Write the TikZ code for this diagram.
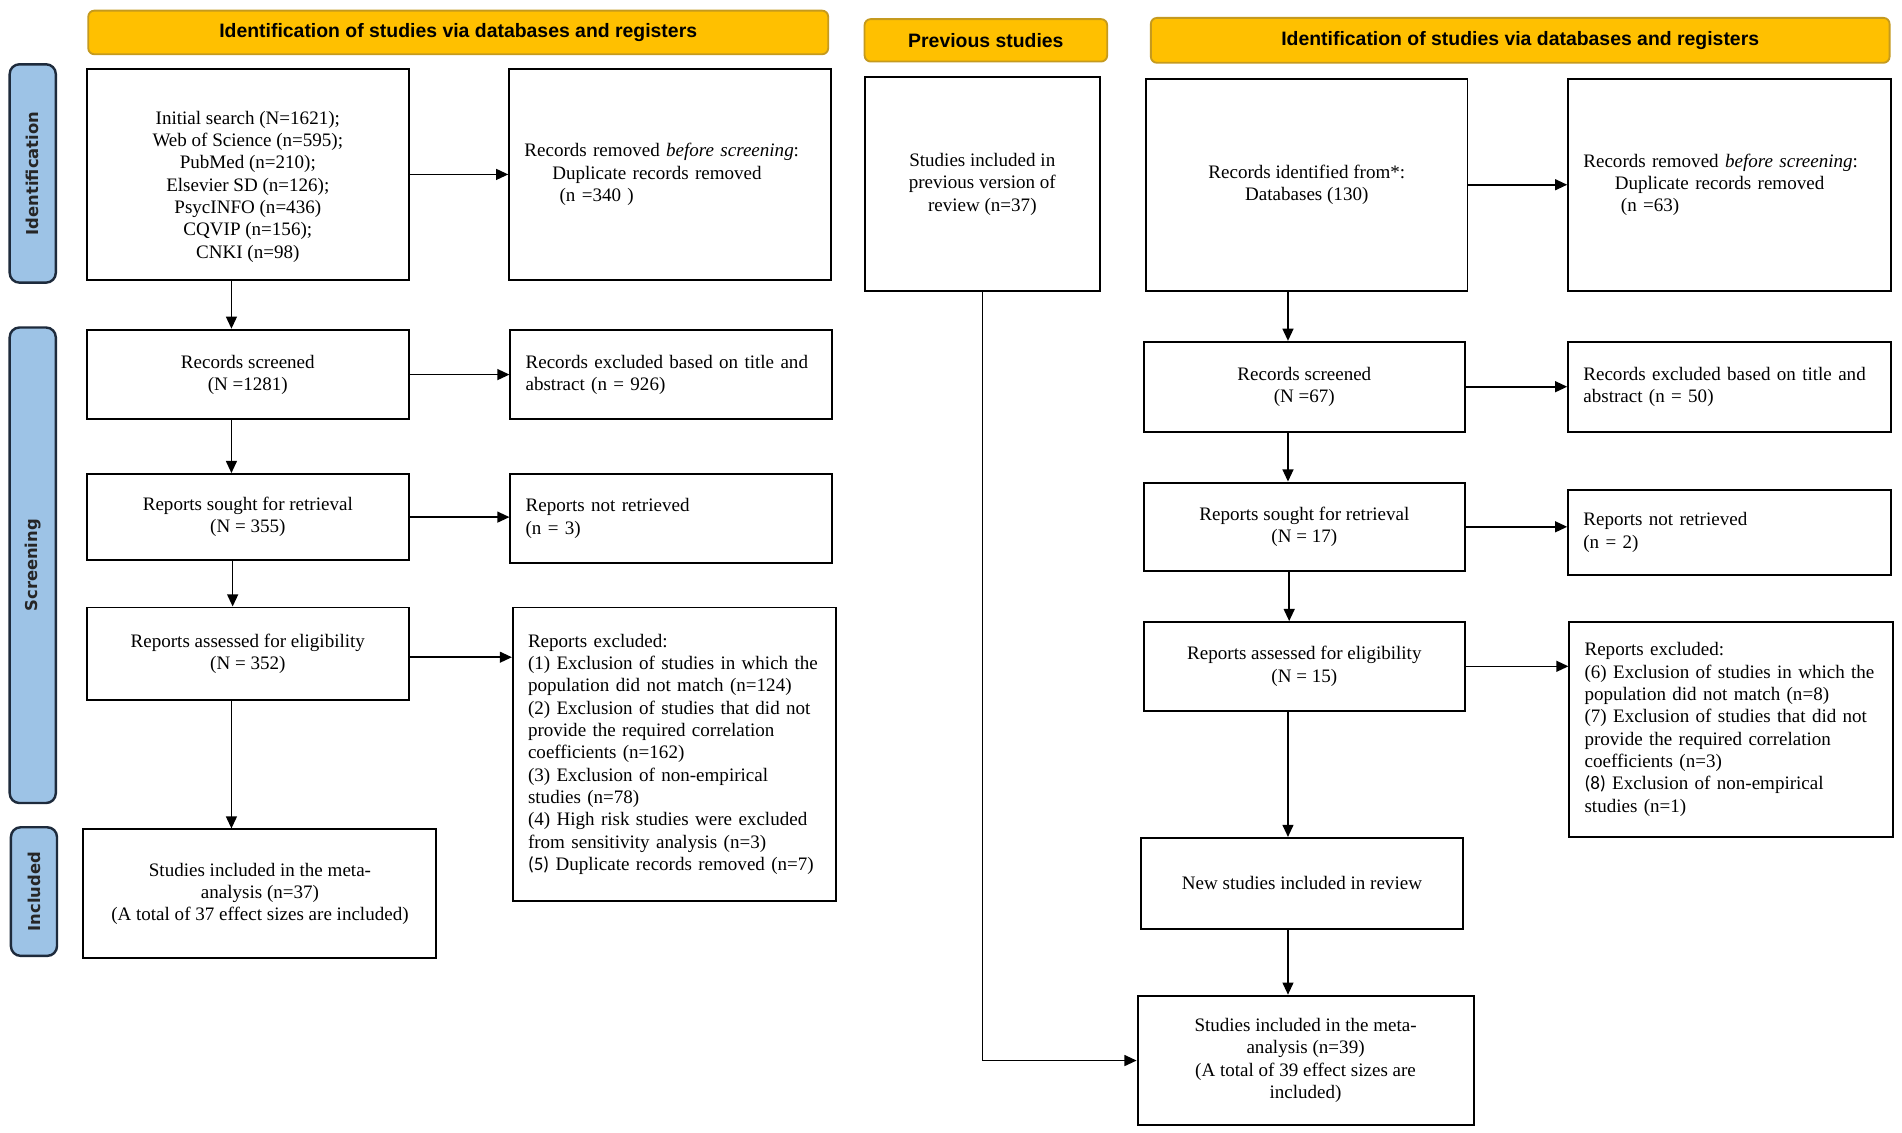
\documentclass[tikz,border=0pt]{standalone}
\usepackage{fontspec}
\setmainfont{Liberation Serif}
\newfontfamily\hdrfont{Liberation Sans}
\newfontfamily\sidefont{DejaVu Sans}
\newfontfamily\calfont{Carlito}
\usetikzlibrary{arrows.meta}
\definecolor{hdryellow}{HTML}{FFC000}
\definecolor{hdrborder}{HTML}{C59A1E}
\definecolor{sideblue}{HTML}{9DC3E6}
\definecolor{sideborder}{HTML}{1E2B3C}
\newcommand{\nowrapline}{\rightskip=0pt plus 1fil minus 40pt\relax}
\begin{document}
\begin{tikzpicture}[x=1pt,y=-1pt,
  box/.style={draw=black, line width=1.6pt, fill=white, anchor=north west, inner sep=0pt, align=center, font=\fontsize{15.7}{18.4}\selectfont},
  lbox/.style={box, align=left, inner xsep=12.5pt},
  hdr/.style={draw=hdrborder, fill=hdryellow, line width=1.5pt, rounded corners=5pt, anchor=north west, inner sep=0pt, font=\hdrfont\bfseries\fontsize{16}{19}\selectfont},
  side/.style={draw=sideborder, fill=sideblue, line width=2pt, rounded corners=8pt, inner sep=0pt, rotate=90, anchor=center, font=\sidefont\bfseries\fontsize{13.5}{16}\selectfont, text=black!85},
  arr/.style={line width=1.3pt, -{Triangle[length=10pt,width=9pt]}}]
\fill[white] (0,0) rectangle (1568,934);
\useasboundingbox (0,0) rectangle (1568,934);

% side labels
\node[side, minimum width=180pt, minimum height=38pt] (sid) at (27,143) {Identification};
\node[side, minimum width=392pt, minimum height=38pt] (sscr) at (27,466) {Screening};
\node[side, minimum width=106pt, minimum height=38pt] (sinc) at (28,735) {Included};

% headers
\node[hdr, minimum width=610pt, minimum height=36pt] (h1) at (72,8) {Identification of studies via databases and registers};
\node[hdr, minimum width=200pt, minimum height=35pt] (h2) at (712,15) {Previous studies};
\node[hdr, minimum width=609pt, minimum height=37pt] (h3) at (948,14) {Identification of studies via databases and registers};

% left column
\node[box, minimum width=265pt, minimum height=174pt] (init) at (71,56) {\rule{0pt}{31pt}Initial search (N=1621);\\Web of Science (n=595);\\PubMed (n=210);\\Elsevier SD (n=126);\\PsycINFO (n=436)\\CQVIP (n=156);\\CNKI (n=98)};
\node[lbox, text width=240pt, minimum width=265pt, minimum height=174pt] (rem1) at (419,56) {\nowrapline Records removed \textit{before screening}:\\\hspace*{23pt}Duplicate records removed\\\hspace*{29pt}(n =340 )};
\node[box, minimum width=265pt, minimum height=74pt] (scr1) at (71,271) {Records screened\\(N =1281)};
\node[lbox, text width=240pt, minimum width=265pt, minimum height=74pt] (exc1) at (420,271) {\nowrapline Records excluded based on title and\\abstract (n = 926)};
\node[box, minimum width=265pt, minimum height=71pt] (sou1) at (71,390) {Reports sought for retrieval\\(N = 355)};
\node[lbox, text width=240pt, minimum width=265pt, minimum height=73pt] (nr1) at (420,390) {\nowrapline Reports not retrieved\\(n = 3)};
\node[box, minimum width=265pt, minimum height=76pt] (ass1) at (71,500) {Reports assessed for eligibility\\(N = 352)};
\node[lbox, text width=241pt, minimum width=266pt, minimum height=242pt] (rex1) at (422,500) {\nowrapline Reports excluded:\\(1) Exclusion of studies in which the\\population did not match (n=124)\\(2) Exclusion of studies that did not\\provide the required correlation\\coefficients (n=162)\\(3) Exclusion of non-empirical\\studies (n=78)\\(4) High risk studies were excluded\\from sensitivity analysis (n=3)\\{\calfont (5)} Duplicate records removed (n=7)};
\node[box, minimum width=291pt, minimum height=106pt] (inc1) at (68,683) {Studies included in the meta-\\analysis (n=37)\\(A total of 37 effect sizes are included)};

% middle
\node[box, minimum width=194pt, minimum height=176pt] (prev) at (712,63) {Studies included in\\previous version of\\review (n=37)};

% right column
\node[box, minimum width=265pt, minimum height=175pt] (id2) at (944,64) {Records identified from*:\\Databases (130)};
\node[lbox, text width=241pt, minimum width=266pt, minimum height=175pt] (rem2) at (1292,64) {\nowrapline Records removed \textit{before screening}:\\\hspace*{26pt}Duplicate records removed\\\hspace*{31pt}(n =63)};
\node[box, minimum width=265pt, minimum height=74pt] (scr2) at (942,281) {Records screened\\(N =67)};
\node[lbox, text width=241pt, minimum width=266pt, minimum height=74pt] (exc2) at (1292,281) {\nowrapline Records excluded based on title and\\abstract (n = 50)};
\node[box, minimum width=265pt, minimum height=73pt] (sou2) at (942,397) {Reports sought for retrieval\\(N = 17)};
\node[lbox, text width=241pt, minimum width=266pt, minimum height=70pt] (nr2) at (1292,403) {\nowrapline Reports not retrieved\\(n = 2)};
\node[box, minimum width=265pt, minimum height=73pt] (ass2) at (942,512) {Reports assessed for eligibility\\(N = 15)};
\node[lbox, text width=242pt, minimum width=267pt, minimum height=177pt] (rex2) at (1293,512) {\nowrapline Reports excluded:\\(6) Exclusion of studies in which the\\population did not match (n=8)\\(7) Exclusion of studies that did not\\provide the required correlation\\coefficients (n=3)\\{\calfont (8)} Exclusion of non-empirical\\studies (n=1)};
\node[box, minimum width=265pt, minimum height=75pt] (new2) at (940,690) {New studies included in review};
\node[box, minimum width=277pt, minimum height=107pt] (fin2) at (937,820) {Studies included in the meta-\\analysis (n=39)\\(A total of 39 effect sizes are\\included)};

% vertical arrows, left
\path ([xshift=-13.5pt]init.south) coordinate (v1);
\path ([xshift=-13.5pt]scr1.south) coordinate (v2);
\path ([xshift=-12.5pt]sou1.south) coordinate (v3);
\path ([xshift=-13.5pt]ass1.south) coordinate (v4);
\draw[arr] (v1) -- (v1 |- scr1.north);
\draw[arr] (v2) -- (v2 |- sou1.north);
\draw[arr] (v3) -- (v3 |- ass1.north);
\draw[arr] (v4) -- (v4 |- inc1.north);

% horizontal arrows, left
\draw[arr] (init.east) -- (init.east -| rem1.west);
\draw[arr] (scr1.east) -- (scr1.east -| exc1.west);
\draw[arr] (sou1.east) -- (sou1.east -| nr1.west);
\draw[arr] ([yshift=-3pt]ass1.east) -- ([yshift=-3pt]ass1.east -| rex1.west);

% previous studies
\draw[arr] (prev.south) |- (fin2.west);

% vertical arrows, right
\path ([xshift=-15.5pt]id2.south) coordinate (w1);
\path ([xshift=-13.5pt]scr2.south) coordinate (w2);
\path ([xshift=-12.5pt]sou2.south) coordinate (w3);
\path ([xshift=-13.5pt]ass2.south) coordinate (w4);
\path ([xshift=-11.5pt]new2.south) coordinate (w5);
\draw[arr] (w1) -- (w1 |- scr2.north);
\draw[arr] (w2) -- (w2 |- sou2.north);
\draw[arr] (w3) -- (w3 |- ass2.north);
\draw[arr] (w4) -- (w4 |- new2.north);
\draw[arr] (w5) -- (w5 |- fin2.north);

% horizontal arrows, right
\draw[arr] (id2.east) -- (id2.east -| rem2.west);
\draw[arr] (scr2.east) -- (scr2.east -| exc2.west);
\draw[arr] (sou2.east) -- (sou2.east -| nr2.west);
\draw[arr] (ass2.east) -- (ass2.east -| rex2.west);
\end{tikzpicture}
\end{document}
